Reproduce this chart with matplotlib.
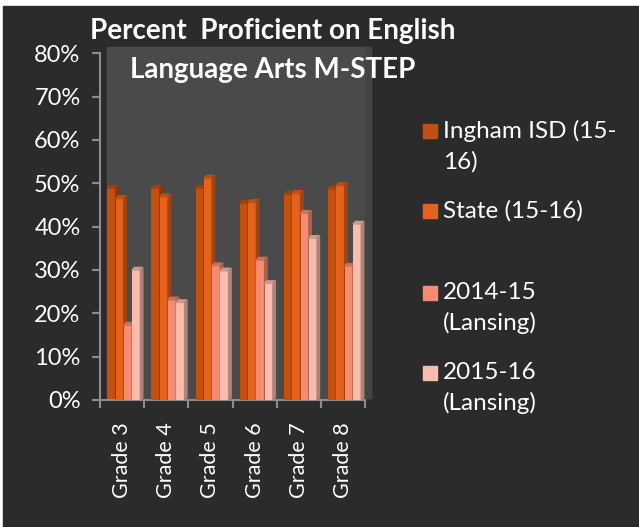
import numpy as np
import matplotlib.pyplot as plt
from matplotlib.patches import Rectangle, Polygon
from matplotlib.colors import to_rgb

# ============================================================
# 数据
# ============================================================
GRADES = ["Grade 3", "Grade 4", "Grade 5", "Grade 6", "Grade 7", "Grade 8"]
SERIES = ["Ingham ISD (15-\n16)", "State (15-16)", "2014-15\n(Lansing)", "2015-16\n(Lansing)"]
INGHAM_1516 = [48.9, 48.9, 48.9, 45.4, 47.5, 48.7]
STATE_1516 = [46.5, 46.9, 51.2, 45.6, 47.7, 49.5]
LANSING_1415 = [17.3, 23.1, 31.0, 32.3, 43.1, 30.9]
LANSING_1516 = [30.0, 22.5, 29.8, 26.9, 37.3, 40.6]
Y_TICKS = [0, 10, 20, 30, 40, 50, 60, 70, 80]

COLORS = ["#C2500F", "#E6611A", "#F68B6F", "#FBBCAE"]
BG = "#2B2B2B"
WALL = "#4A4A4A"
AXIS = "#8C8C8C"
FONT = ["Lato", "DejaVu Sans"]

W, H = 639, 527
fig = plt.figure(figsize=(W / 100, H / 100), dpi=100, facecolor="white")
fig.patches.append(Rectangle((3 / W, 0), (638 - 3) / W, (H - 6) / H,
                             transform=fig.transFigure, color=BG, zorder=-10))


def px(x, y):
    return x / W, 1 - y / H


# 坐标轴区域: x 100..365 px, y 400 (0%) .. 53.3 (80%)
l, b = px(100, 400)
r, t = px(365, 53.3)
ax = fig.add_axes([l, b, r - l, t - b])
ax.set_facecolor("none")
ax.set_xlim(0, 6)
ax.set_ylim(0, 80)

# 背景墙 (3D 深度偏移)
ax.add_patch(Rectangle((7 / 265, 2 / 346.7), (371 - 107) / 265, (398 - 47) / 346.7,
                       transform=ax.transAxes, color=WALL, zorder=0, clip_on=False))
ax.add_patch(Rectangle((1.0, 2 / 346.7), 6 / 265, (398 - 47) / 346.7,
                       transform=ax.transAxes, color="#444444", zorder=0, clip_on=False))


def shade(c, f):
    return tuple(np.array(to_rgb(c)) * f)


values = [INGHAM_1516, STATE_1516, LANSING_1415, LANSING_1516]
bw = 0.1875
dx, dy = 0.055, 0.6
x = np.arange(len(GRADES)) + 0.5 + 0.04
for i in range(len(GRADES)):
    for j, vals in enumerate(values):
        x0 = x[i] + (j - 2) * bw
        v = vals[i]
        ax.bar(x0, v, width=bw, align="edge", color=COLORS[j], zorder=2 + i * 4 + j)
        ax.add_patch(Polygon([(x0, v), (x0 + dx, v + dy), (x0 + bw + dx, v + dy), (x0 + bw, v)],
                             color=shade(COLORS[j], 0.82), zorder=2 + i * 4 + j))
        ax.add_patch(Polygon([(x0 + bw, 0), (x0 + bw + dx, dy), (x0 + bw + dx, v + dy), (x0 + bw, v)],
                             color=shade(COLORS[j], 0.7), zorder=2 + i * 4 + j))

# 坐标轴样式
for s in ["top", "right"]:
    ax.spines[s].set_visible(False)
for s in ["left", "bottom"]:
    ax.spines[s].set_color(AXIS)
    ax.spines[s].set_linewidth(1.5)
ax.spines["left"].set_bounds(0, 80)
ax.set_yticks(Y_TICKS)
ax.set_yticklabels([f"{v}%" for v in Y_TICKS], family=FONT, fontsize=17, color="white")
ax.set_xticks(np.arange(0, 7))
ax.set_xticklabels([])
ax.set_xticks(np.arange(len(GRADES)) + 0.5, minor=True)
ax.set_xticklabels(GRADES, minor=True, rotation=90, family=FONT, fontsize=15.5, color="white")
ax.tick_params(axis="x", which="minor", length=0, pad=16)
ax.tick_params(axis="both", which="major", color=AXIS, width=1.5, length=6, direction="out")
ax.tick_params(axis="y", pad=8)

# 标题
fig.text(*px(273, 39), "Percent  Proficient on English", ha="center", va="baseline",
         family=FONT, fontsize=20, fontweight="bold", color="white")
fig.text(*px(273, 78), "Language Arts M-STEP", ha="center", va="baseline",
         family=FONT, fontsize=20, fontweight="bold", color="white")

# 图例
legend_y = [124, 204, 286, 366]
for lab, col, yy in zip(SERIES, COLORS, legend_y):
    fig.patches.append(Rectangle(px(423, yy + 14), 14 / W, 14 / H, transform=fig.transFigure,
                                 color=col))
    fig.text(*px(443, yy - 4), lab, ha="left", va="top", family=FONT, fontsize=17.5,
             color="white", linespacing=1.5)

fig.savefig("out.png", dpi=100, facecolor=fig.get_facecolor())
